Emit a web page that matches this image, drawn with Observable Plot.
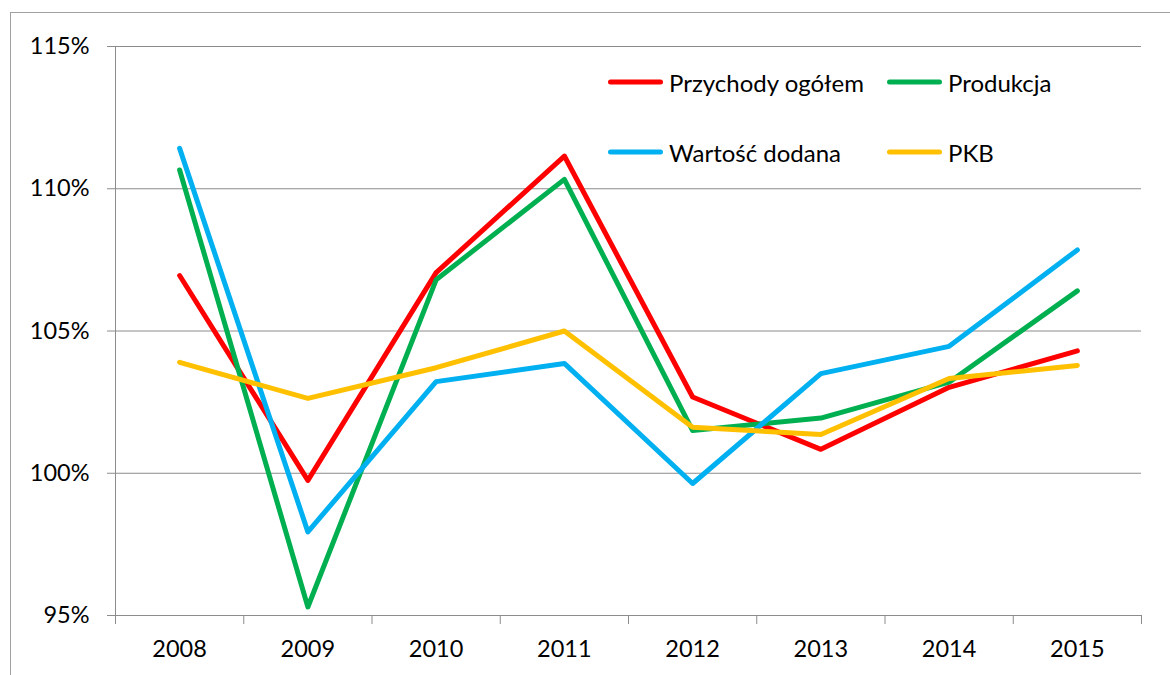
<!DOCTYPE html>
<html>
<head>
<meta charset="utf-8">
<script src="https://cdn.jsdelivr.net/npm/d3@7"></script>
<script src="https://cdn.jsdelivr.net/npm/@observablehq/plot@0.6"></script>
<style>
  html, body { margin: 0; padding: 0; background: #fff; }
  #wrap { position: relative; width: 1170px; height: 675px; overflow: hidden; font-family: Lato, "Open Sans", sans-serif; }
  #frame { position: absolute; left: 10px; top: 12px; width: 1200px; height: 700px; border-left: 1px solid #a0a0a0; border-top: 1px solid #a0a0a0; }
  #legend { position: absolute; left: 608px; top: 0; font-size: 24px; color: #000; }
  .item { position: absolute; display: flex; align-items: center; white-space: nowrap; transform: translateY(-50%); }
  .sw { display: inline-block; width: 55px; height: 5px; border-radius: 3px; margin-right: 6px; }
</style>
</head>
<body>
<div id="wrap">
  <div id="frame"></div>
  <div id="chart"></div>
  <div id="legend"></div>
</div>
<script>
const years = ["2008", "2009", "2010", "2011", "2012", "2013", "2014", "2015"];
const seriesNames = ["Przychody ogółem", "Produkcja", "Wartość dodana", "PKB"];
const seriesColors = ["#ff0000", "#00b050", "#00b0f0", "#ffc000"];
const przychody = [106.95, 99.75, 107.05, 111.15, 102.68, 100.84, 103.02, 104.30];
const produkcja = [110.66, 95.3, 106.8, 110.33, 101.5, 101.94, 103.2, 106.41];
const wartosc = [111.42, 97.94, 103.22, 103.86, 99.64, 103.5, 104.46, 107.85];
const pkb = [103.9, 102.63, 103.71, 105.0, 101.62, 101.36, 103.33, 103.79];
const yTicks = [95, 100, 105, 110, 115];

const seriesValues = [przychody, produkcja, wartosc, pkb];
const data = [];
seriesNames.forEach((name, s) => {
  seriesValues[s].forEach((v, i) => data.push({series: name, i, year: years[i], value: v}));
});

const chart = Plot.plot({
  width: 1170,
  height: 675,
  marginLeft: 115,
  marginRight: 29,
  marginTop: 46,
  marginBottom: 60,
  style: {fontFamily: "Lato, 'Open Sans', sans-serif", fontSize: "23.5px", background: "transparent", color: "#000"},
  x: {type: "linear", domain: [-0.5, years.length - 0.5], label: null},
  y: {domain: [95, 115], label: null},
  color: {domain: seriesNames, range: seriesColors},
  marks: [
    Plot.ruleY(yTicks, {stroke: "#8c8c8c", strokeWidth: 1}),
    Plot.ruleX([-0.5], {stroke: "#8c8c8c", strokeWidth: 1}),
    Plot.axisY(yTicks, {tickSize: 8, tickPadding: 18, tickFormat: d => d + "%", stroke: "#8c8c8c", fill: "#000", label: null}),
    Plot.axisX(d3.range(years.length + 1).map(i => i - 0.5), {tickSize: 9, tickFormat: () => "", stroke: "#8c8c8c", label: null}),
    Plot.axisX(d3.range(years.length), {tickSize: 0, tickPadding: 25, tickFormat: i => years[i], fill: "#000", label: null}),
    Plot.line(data, {x: "i", y: "value", z: "series", stroke: "series", strokeWidth: 5, strokeLinecap: "round", strokeLinejoin: "round"})
  ]
});
document.getElementById("chart").appendChild(chart);

const legend = document.getElementById("legend");
const legendPos = [[0, 82], [279, 82], [0, 152], [279, 152]];
seriesNames.forEach((name, s) => {
  const item = document.createElement("div");
  item.className = "item";
  item.style.left = legendPos[s][0] + "px";
  item.style.top = legendPos[s][1] + "px";
  const sw = document.createElement("span");
  sw.className = "sw";
  sw.style.background = seriesColors[s];
  const t = document.createElement("span");
  t.textContent = name;
  item.appendChild(sw);
  item.appendChild(t);
  legend.appendChild(item);
});
</script>
</body>
</html>
